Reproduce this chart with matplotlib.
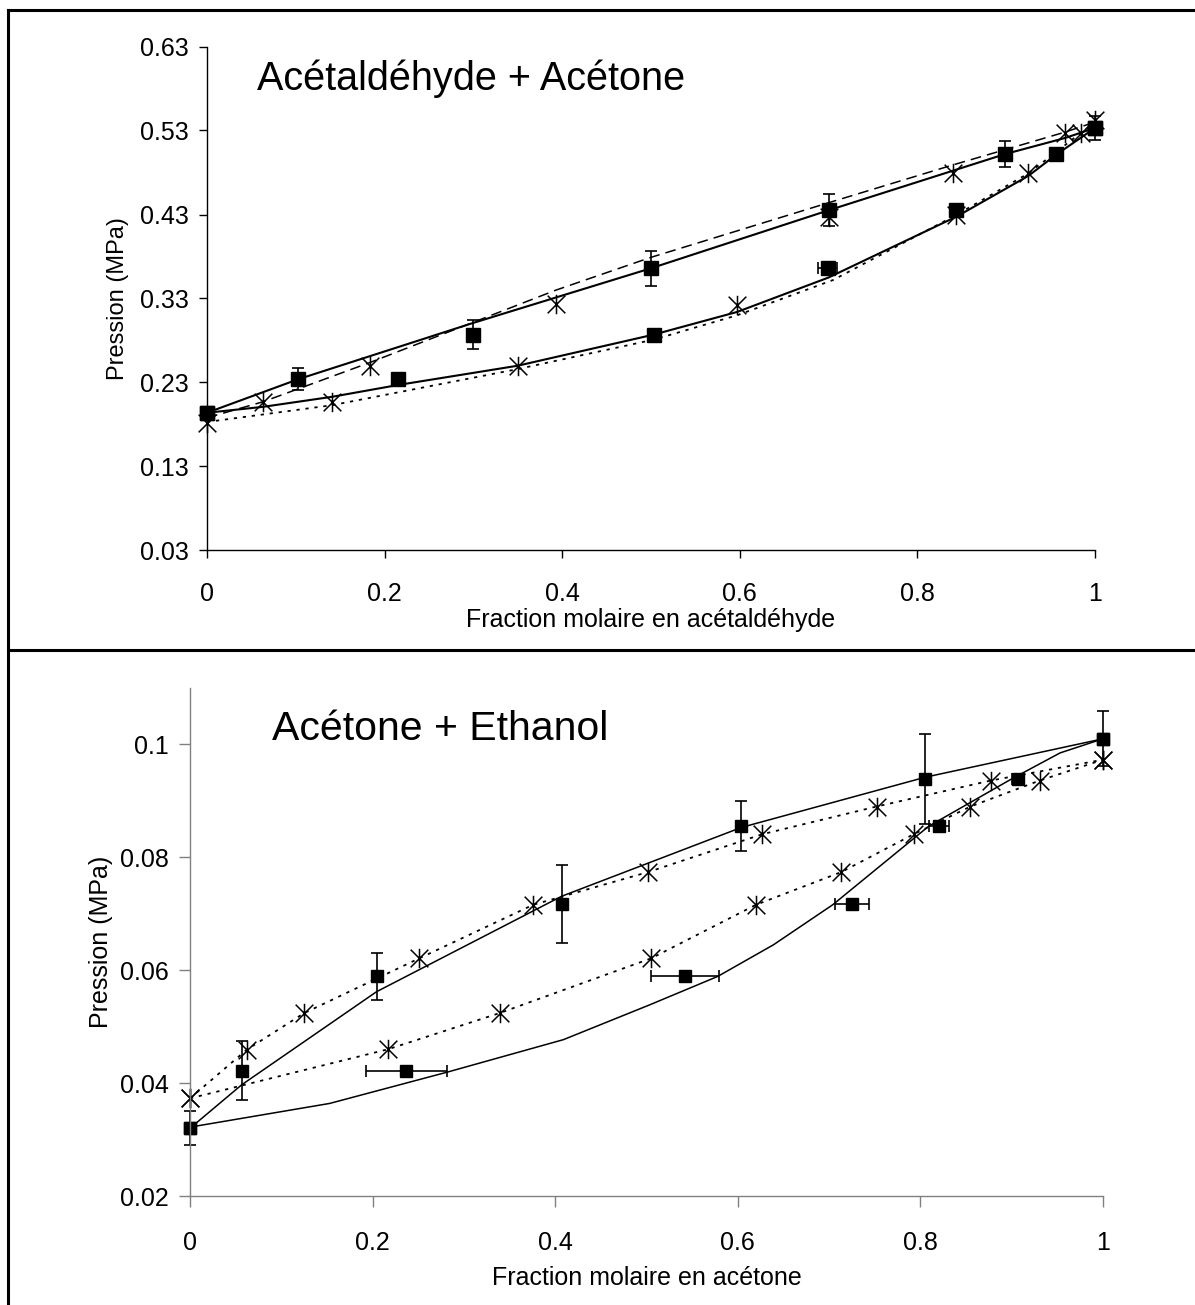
import matplotlib
matplotlib.use("Agg")
import matplotlib.pyplot as plt
from matplotlib.path import Path
from matplotlib.lines import Line2D

plt.rcParams['font.family'] = ['Liberation Sans', 'DejaVu Sans']

# ---------------- Acétaldéhyde + Acétone ----------------
# experimental points (squares): liquid (bubble) and vapour (dew) compositions
aa_p_exp = [0.194, 0.234, 0.287, 0.366, 0.435, 0.502, 0.533]
aa_x_liq = [0.0, 0.103, 0.300, 0.500, 0.700, 0.899, 1.0]
aa_p_err = [0.004, 0.013, 0.017, 0.021, 0.019, 0.016, 0.014]
aa_x_vap = [0.0, 0.215, 0.503, 0.699, 0.844, 0.956, 1.0]
aa_x_err = [0.0, 0.0, 0.0, 0.011, 0.0, 0.0, 0.0]

# simulated points (stars)
aa_sim_x_liq = [0.0, 0.063, 0.184, 0.393, 0.700, 0.840, 0.966, 1.0]
aa_sim_p_liq = [0.182, 0.207, 0.250, 0.323, 0.427, 0.479, 0.527, 0.543]
aa_sim_x_vap = [0.141, 0.350, 0.597, 0.843, 0.925, 0.984]
aa_sim_p_vap = [0.207, 0.250, 0.322, 0.429, 0.479, 0.527]

# model curves
aa_solid_up_x = [0.0, 0.103, 0.300, 0.500, 0.700, 0.899, 0.966, 1.0]
aa_solid_up_p = [0.194, 0.234, 0.301, 0.366, 0.435, 0.502, 0.521, 0.533]
aa_solid_lo_x = [0.0, 0.063, 0.141, 0.215, 0.350, 0.503, 0.597, 0.700, 0.845, 0.925, 0.956, 1.0]
aa_solid_lo_p = [0.194, 0.201, 0.213, 0.227, 0.250, 0.287, 0.314, 0.355, 0.428, 0.476, 0.501, 0.533]
aa_dash_x = [0.0, 0.063, 0.184, 0.393, 0.500, 0.700, 0.840, 0.966, 1.0]
aa_dash_p = [0.188, 0.207, 0.254, 0.340, 0.379, 0.444, 0.489, 0.528, 0.540]
aa_dot_x = [0.0, 0.141, 0.350, 0.503, 0.597, 0.705, 0.843, 0.925, 0.984, 1.0]
aa_dot_p = [0.183, 0.203, 0.246, 0.281, 0.310, 0.352, 0.429, 0.479, 0.527, 0.540]

aa_yticks = [0.03, 0.13, 0.23, 0.33, 0.43, 0.53, 0.63]
aa_ytick_labels = ['0.03', '0.13', '0.23', '0.33', '0.43', '0.53', '0.63']

# ---------------- Acétone + Ethanol ----------------
ae_p_exp = [0.0320, 0.0422, 0.0589, 0.0718, 0.0855, 0.0939, 0.1010]
ae_x_liq = [0.0, 0.0566, 0.2044, 0.407, 0.604, 0.8055, 1.0]
ae_p_err = [0.0030, 0.0052, 0.0041, 0.0069, 0.0044, 0.0080, 0.0049]
ae_x_vap = [0.0, 0.237, 0.542, 0.7255, 0.820, 0.907, 1.0]
ae_x_err = [0.0, 0.0447, 0.037, 0.0186, 0.011, 0.007, 0.0]

ae_sim_x_liq = [0.0, 0.062, 0.125, 0.251, 0.376, 0.502, 0.627, 0.752, 0.877, 1.0]
ae_sim_p_liq = [0.0373, 0.0459, 0.0524, 0.0621, 0.0716, 0.0774, 0.0841, 0.0890, 0.0936, 0.0973]
ae_sim_x_vap = [0.0, 0.217, 0.339, 0.505, 0.620, 0.7135, 0.7927, 0.8548, 0.9306, 1.0]
ae_sim_p_vap = [0.0373, 0.0460, 0.0524, 0.0621, 0.0716, 0.0774, 0.0841, 0.0890, 0.0936, 0.0973]

ae_solid_up_x = [0.0, 0.0566, 0.2044, 0.407, 0.604, 0.8055, 1.0]
ae_solid_up_p = [0.0320, 0.0397, 0.0562, 0.0731, 0.0853, 0.0942, 0.1010]
ae_solid_lo_x = [0.0, 0.153, 0.283, 0.409, 0.504, 0.578, 0.639, 0.704, 0.809, 0.900, 0.953, 1.0]
ae_solid_lo_p = [0.0322, 0.0364, 0.0420, 0.0477, 0.0539, 0.0589, 0.0645, 0.0716, 0.0855, 0.0939, 0.0985, 0.1010]

ae_yticks = [0.02, 0.04, 0.06, 0.08, 0.1]
ae_ytick_labels = ['0.02', '0.04', '0.06', '0.08', '0.1']

xticks = [0, 0.2, 0.4, 0.6, 0.8, 1.0]
xtick_labels = ['0', '0.2', '0.4', '0.6', '0.8', '1']

# star marker: an X crossed by a vertical bar
star = Path([(-1, -1), (1, 1), (-1, 1), (1, -1), (0, -1.1), (0, 1.1)],
            [Path.MOVETO, Path.LINETO, Path.MOVETO, Path.LINETO, Path.MOVETO, Path.LINETO])

W, H = 1195, 1305
fig = plt.figure(figsize=(W / 100, H / 100), dpi=100)
fig.patch.set_facecolor('white')

# frame lines around the two panels
fig.add_artist(Line2D([8 / W, 1], [1 - 10 / H, 1 - 10 / H], color='black', lw=2.2))
fig.add_artist(Line2D([8 / W, 8 / W], [0, 1 - 10 / H], color='black', lw=2.2))
fig.add_artist(Line2D([8 / W, 1], [1 - 650 / H, 1 - 650 / H], color='black', lw=2.2))


def style_axes(ax, spine_color, tick_len):
    for s in ('top', 'right'):
        ax.spines[s].set_visible(False)
    for s in ('left', 'bottom'):
        ax.spines[s].set_color(spine_color)
        ax.spines[s].set_linewidth(1.0)
    ax.tick_params(axis='both', direction='out', length=tick_len, width=1.0,
                   color=spine_color, labelsize=18, labelcolor='black')
    ax.tick_params(axis='x', pad=17)
    ax.tick_params(axis='y', pad=7)
    ax.set_facecolor('white')


# ---- top panel ----
ax1 = fig.add_axes([207 / W, 1 - 550.5 / H, 888 / W, 504 / H])
style_axes(ax1, 'black', 6)
ax1.set_xlim(0, 1)
ax1.set_ylim(0.03, 0.63)
ax1.set_xticks(xticks)
ax1.set_xticklabels(xtick_labels)
ax1.set_yticks(aa_yticks)
ax1.set_yticklabels(aa_ytick_labels)

ax1.plot(aa_dash_x, aa_dash_p, color='black', lw=1.1, dashes=(7, 4), clip_on=False)
ax1.plot(aa_dot_x, aa_dot_p, color='black', lw=1.3, dashes=(1.8, 3.2), clip_on=False)
ax1.plot(aa_solid_up_x, aa_solid_up_p, color='black', lw=1.5, clip_on=False)
ax1.plot(aa_solid_lo_x, aa_solid_lo_p, color='black', lw=1.5, clip_on=False)

ax1.plot(aa_sim_x_liq, aa_sim_p_liq, ls='none', marker=star, ms=14, mew=1.1,
         mfc='none', mec='black', clip_on=False)
ax1.plot(aa_sim_x_vap, aa_sim_p_vap, ls='none', marker=star, ms=14, mew=1.1,
         mfc='none', mec='black', clip_on=False)

eb = ax1.errorbar(aa_x_liq, aa_p_exp, yerr=aa_p_err, ls='none', marker='s', ms=10,
                  mfc='black', mec='black', ecolor='black', elinewidth=1.2,
                  capsize=4, capthick=1.2)
eb2 = ax1.errorbar(aa_x_vap, aa_p_exp, xerr=aa_x_err, ls='none', marker='s', ms=10,
                   mfc='black', mec='black', ecolor='black', elinewidth=1.2,
                   capsize=4, capthick=1.2)
for container in (eb, eb2):
    for art in container.get_children():
        art.set_clip_on(False)

ax1.text(50 / 888, (550.5 - 90) / 504, 'Acétaldéhyde + Acétone', transform=ax1.transAxes,
         fontsize=28.5, ha='left', va='baseline')
ax1.set_xlabel('Fraction molaire en acétaldéhyde', fontsize=18)
ax1.xaxis.set_label_coords(0.5, (550.5 - 608) / 504)
ax1.set_ylabel('Pression (MPa)', fontsize=17)
ax1.yaxis.set_label_coords((129 - 207) / 888, 0.5)

# ---- bottom panel ----
ax2 = fig.add_axes([190 / W, 1 - 1196 / H, 913 / W, 508 / H])
style_axes(ax2, '#808080', 8)
ax2.set_xlim(0, 1)
ax2.set_ylim(0.02, 0.11)
ax2.set_xticks(xticks)
ax2.set_xticklabels(xtick_labels)
ax2.set_yticks(ae_yticks)
ax2.set_yticklabels(ae_ytick_labels)

ax2.plot(ae_sim_x_liq, ae_sim_p_liq, color='black', lw=1.3, dashes=(1.8, 3.2), clip_on=False)
ax2.plot(ae_sim_x_vap, ae_sim_p_vap, color='black', lw=1.3, dashes=(1.8, 3.2), clip_on=False)
ax2.plot(ae_solid_up_x, ae_solid_up_p, color='black', lw=1.1, clip_on=False)
ax2.plot(ae_solid_lo_x, ae_solid_lo_p, color='black', lw=1.1, clip_on=False)

ax2.plot(ae_sim_x_liq, ae_sim_p_liq, ls='none', marker=star, ms=14, mew=1.1,
         mfc='none', mec='black', clip_on=False)
ax2.plot(ae_sim_x_vap, ae_sim_p_vap, ls='none', marker=star, ms=14, mew=1.1,
         mfc='none', mec='black', clip_on=False)

eb3 = ax2.errorbar(ae_x_liq, ae_p_exp, yerr=ae_p_err, ls='none', marker='s', ms=8.5,
                   mfc='black', mec='black', ecolor='black', elinewidth=1.2,
                   capsize=4, capthick=1.2)
eb4 = ax2.errorbar(ae_x_vap, ae_p_exp, xerr=ae_x_err, ls='none', marker='s', ms=8.5,
                   mfc='black', mec='black', ecolor='black', elinewidth=1.2,
                   capsize=4, capthick=1.2)
for container in (eb3, eb4):
    for art in container.get_children():
        art.set_clip_on(False)

ax2.text(82 / 913, (1196 - 740) / 508, 'Acétone + Ethanol', transform=ax2.transAxes,
         fontsize=29.5, ha='left', va='baseline')
ax2.set_xlabel('Fraction molaire en acétone', fontsize=18)
ax2.xaxis.set_label_coords(0.5, (1196 - 1266) / 508)
ax2.set_ylabel('Pression (MPa)', fontsize=18)
ax2.yaxis.set_label_coords((113 - 190) / 913, 0.5)

fig.savefig('out.png', dpi=100, facecolor='white')
